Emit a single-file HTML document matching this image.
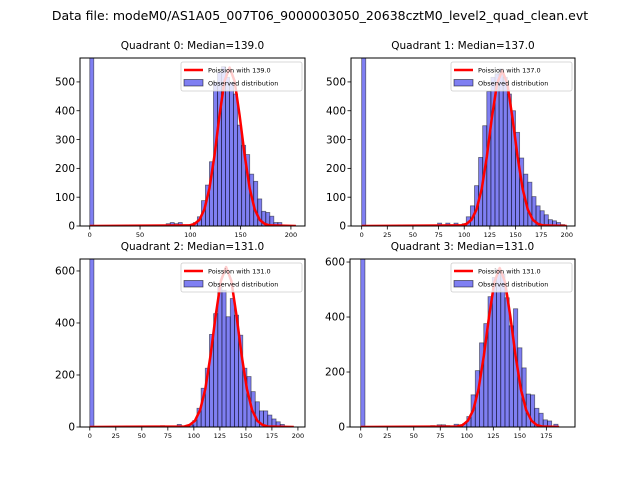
<!DOCTYPE html>
<html><head><meta charset="utf-8"><style>
body{margin:0;background:#fff;}
svg{display:block;font-family:"DejaVu Sans","Liberation Sans",sans-serif;}
</style></head><body>
<svg id="fig" width="640" height="480" viewBox="0 0 640 480">
<rect width="640" height="480" fill="#fff"/>
<text x="320" y="20" text-anchor="middle" font-size="12.5">Data file: modeM0/AS1A05_007T06_9000003050_20638cztM0_level2_quad_clean.evt</text>
</svg>
<script>
// Quadrant 0
const q0Starts=[0,76,80,84,88,92,96,100,103,107,111,115,119,123,127,131,135,139,143,147,151,155,159,163,167,171,175,179,183,187,191,195];
const q0Counts=[5000,8,12,8,12,3,3,5,12,32,88,142,223,499,535,553,516,499,458,350,280,248,180,155,94,51,47,34,12,12,3,2];
const q0CurveX=[0,99,104,109,114,119,124,129,134,139,144,149,154,159,164,169,174,179,205];
const q0CurveY=[0,2,7,21,58,130,245,384,503,550,503,384,245,130,58,21,7,2,0];
// Quadrant 1
const q1Starts=[0,74,82,90,98,102,106,110,114,118,122,126,130,134,138,142,146,150,154,158,162,166,170,174,178,182,186,190,194];
const q1Counts=[5000,10,10,10,8,32,70,140,238,348,467,516,528,545,516,458,400,325,236,180,152,102,70,53,39,22,18,12,5];
const q1CurveX=[0,97,102,107,112,117,122,127,132,137,142,147,152,157,162,167,172,177,200];
const q1CurveY=[0,2,7,21,57,128,240,377,494,540,494,377,240,128,57,21,7,2,0];
// Quadrant 2
const q2Starts=[0,68,84,92,96,99,103,107,111,115,119,123,127,131,135,139,143,147,151,155,159,163,167,171,175,179,183];
const q2Counts=[5000,5,10,5,8,25,72,149,226,356,436,538,526,424,494,430,353,226,194,136,97,62,62,46,31,20,10];
const q2CurveX=[0,91,96,101,106,111,116,121,126,131,136,141,146,151,156,161,166,171,196];
const q2CurveY=[0,2,8,24,65,146,274,429,562,615,562,429,274,146,65,24,8,2,0];
// Quadrant 3
const q3Starts=[0,52,66,72,76,80,88,92,96,100,104,108,112,116,120,124,128,132,136,140,144,148,152,156,160,164,168,172,176,182];
const q3Counts=[5000,3,5,8,8,5,10,8,12,38,117,205,306,376,474,544,574,556,470,368,430,288,215,120,117,68,50,26,22,10];
const q3CurveX=[0,91,96,101,106,111,116,121,126,131,136,141,146,151,156,161,166,171,187];
const q3CurveY=[0,2,7,23,61,137,258,403,528,578,528,403,258,137,61,23,7,2,0];

const panels=[
 {id:0,title:"Quadrant 0: Median=139.0",label:"Poission with 139.0",L:80,T:58,R:305,B:226,xmin:-9.7,xmax:214,ymax:583,xt:[0,50,100,150,200],yt:[0,100,200,300,400,500],s:q0Starts,c:q0Counts,cx:q0CurveX,cy:q0CurveY,w:4},
 {id:1,title:"Quadrant 1: Median=137.0",label:"Poission with 137.0",L:351,T:58,R:575,B:226,xmin:-10.4,xmax:208,ymax:583,xt:[0,25,50,75,100,125,150,175,200],yt:[0,100,200,300,400,500],s:q1Starts,c:q1Counts,cx:q1CurveX,cy:q1CurveY,w:4},
 {id:2,title:"Quadrant 2: Median=131.0",label:"Poission with 131.0",L:80,T:259,R:305,B:427,xmin:-9.4,xmax:206.8,ymax:646,xt:[0,25,50,75,100,125,150,175,200],yt:[0,200,400,600],s:q2Starts,c:q2Counts,cx:q2CurveX,cy:q2CurveY,w:4},
 {id:3,title:"Quadrant 3: Median=131.0",label:"Poission with 131.0",L:350,T:259,R:575,B:427,xmin:-10.1,xmax:202,ymax:611,xt:[0,25,50,75,100,125,150,175],yt:[0,200,400,600],s:q3Starts,c:q3Counts,cx:q3CurveX,cy:q3CurveY,w:4}
];
const NS="http://www.w3.org/2000/svg";
const fig=document.getElementById('fig');
function mk(tag,attrs,parent){const e=document.createElementNS(NS,tag);for(const k in attrs)e.setAttribute(k,attrs[k]);(parent||fig).appendChild(e);return e;}
panels.forEach(p=>{
 const g=mk('g',{});
 
 
 const xs=v=>p.L+(v-p.xmin)/(p.xmax-p.xmin)*(p.R-p.L);
 const ys=v=>p.B-Math.min(v,p.ymax*1.1)/p.ymax*(p.B-p.T);
 const cid='clip'+p.id;
 const cp=mk('clipPath',{id:cid},g);mk('rect',{x:p.L,y:p.T,width:p.R-p.L,height:p.B-p.T},cp);
 const plot=mk('g',{'clip-path':'url(#'+cid+')'},g);
 p.s.forEach((s,i)=>{
  const x0=xs(s),x1=xs(s+p.w),y=ys(p.c[i]);
  const r=mk('rect',{x:x0,y:y,width:x1-x0,height:p.B-y,fill:'rgba(0,0,230,0.5)',stroke:'rgba(0,0,0,0.5)','stroke-width':0.8},plot);
  
  
 });
 const pts=p.cx.map((x,i)=>xs(x).toFixed(1)+','+ys(p.cy[i]).toFixed(1)).join(' ');
 const line=mk('polyline',{points:pts,fill:'none',stroke:'#f00','stroke-width':2.5,'stroke-linejoin':'round'},plot);
 
 
 mk('rect',{x:p.L,y:p.T,width:p.R-p.L,height:p.B-p.T,fill:'none',stroke:'#000','stroke-width':1},g);
 p.xt.forEach(t=>{const x=xs(t);mk('line',{x1:x,x2:x,y1:p.B,y2:p.B+3.5,stroke:'#000','stroke-width':0.8},g);
  const tx=mk('text',{x:x,y:p.B+11,'font-size':6.5,'text-anchor':'middle'},g);tx.textContent=t;
  
  });
 p.yt.forEach(t=>{const y=ys(t);mk('line',{x1:p.L-3.5,x2:p.L,y1:y,y2:y,stroke:'#000','stroke-width':0.8},g);
  const tx=mk('text',{x:p.L-5,y:y+3.7,'font-size':10.5,'text-anchor':'end'},g);tx.textContent=t;
  
  });
 const tt=mk('text',{x:(p.L+p.R)/2,y:p.T-9,'font-size':10.5,'text-anchor':'middle'},g);tt.textContent=p.title;
 
 
 const lg=mk('g',{},g);
 
 
 const lx=p.R-124,ly=p.T+4;
 mk('rect',{x:lx,y:ly,width:121,height:29,fill:'rgba(255,255,255,0.8)',stroke:'#ccc','stroke-width':0.8,rx:2},lg);
 mk('line',{x1:lx+3,x2:lx+22,y1:ly+8,y2:ly+8,stroke:'#f00','stroke-width':2.5},lg);
 const t1=mk('text',{x:lx+27,y:ly+10.5,'font-size':6.5},lg);t1.textContent=p.label;
 mk('rect',{x:lx+3,y:ly+17.5,width:19,height:6.5,fill:'rgba(0,0,230,0.5)',stroke:'rgba(0,0,0,0.6)','stroke-width':0.8},lg);
 const t2=mk('text',{x:lx+27,y:ly+23.5,'font-size':6.5},lg);t2.textContent='Observed distribution';
});
</script>
</body></html>
